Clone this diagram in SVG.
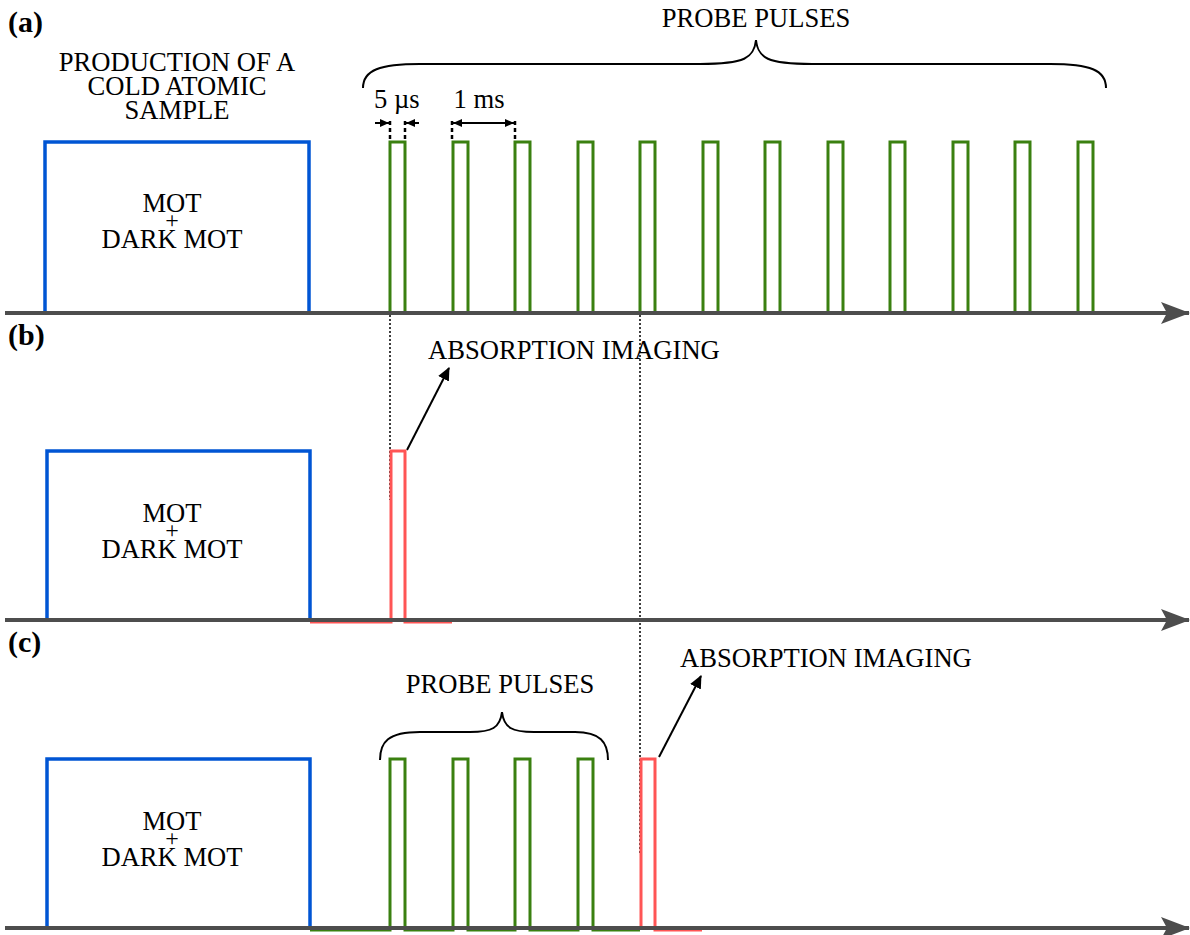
<svg xmlns="http://www.w3.org/2000/svg" width="1190" height="935" viewBox="0 0 1190 935">
<defs>
<marker id="axarr" markerWidth="30" markerHeight="24" refX="28" refY="12" orient="auto" markerUnits="userSpaceOnUse">
<path d="M0,1 L29,12 L0,23 L6,12 Z" fill="#4d4d4d"/>
</marker>
<marker id="arr" markerWidth="14" markerHeight="14" refX="12" refY="7" orient="auto" markerUnits="userSpaceOnUse">
<path d="M0,1 L13,7 L0,13 Z" fill="#000"/>
</marker>
<marker id="sarr" markerWidth="10" markerHeight="10" refX="9" refY="5" orient="auto" markerUnits="userSpaceOnUse">
<path d="M0,1 L9,5 L0,9 Z" fill="#000"/>
</marker>
</defs>
<style>
text{font-family:'Liberation Serif','Times New Roman','DejaVu Serif',serif;fill:#000}
.t{font-size:26.6px}
.p{font-size:24px}
.lbl{font-size:30px;font-weight:bold}
.axis{stroke:#4d4d4d;stroke-width:4;fill:none}
.blue{stroke:#0055d4;stroke-width:3.5;fill:none}
.green{stroke:#3a8010;stroke-width:3;fill:none}
.red{stroke:#ff5555;stroke-width:3;fill:none}
.dot{stroke:#000;stroke-width:1.5;stroke-dasharray:2,2;fill:none}
.dash{stroke:#000;stroke-width:2.5;stroke-dasharray:4,3;fill:none}
.brace{stroke:#000;stroke-width:2;fill:none}
.ln{stroke:#000;stroke-width:2;fill:none}
</style>

<g id="connectors">
<line class="dot" x1="390" y1="315" x2="390" y2="500"/>
<line class="dot" x1="640" y1="315" x2="640" y2="855"/>
<line class="ln" x1="407" y1="450" x2="449" y2="368" marker-end="url(#arr)"/>
<line class="ln" x1="659" y1="757" x2="701" y2="676" marker-end="url(#arr)"/>
</g>

<g id="panel-a">
<text class="lbl" x="8" y="32">(a)</text>
<text class="t" x="177" y="71" text-anchor="middle">PRODUCTION OF A</text>
<text class="t" x="177" y="95" text-anchor="middle">COLD ATOMIC</text>
<text class="t" x="177" y="119" text-anchor="middle">SAMPLE</text>
<text class="t" x="756" y="27" text-anchor="middle">PROBE PULSES</text>
<path class="brace" d="M363,88 C363,70 380,64 420,64 L700,64 C745,64 754,58 756,40 C758,58 767,64 812,64 L1050,64 C1090,64 1106,70 1106,88"/>
<text class="t" x="374" y="108">5 µs</text>
<text class="t" x="479" y="108" text-anchor="middle">1 ms</text>
<line class="dash" x1="390" y1="121" x2="390" y2="142"/>
<line class="dash" x1="405" y1="121" x2="405" y2="142"/>
<line class="dash" x1="452" y1="121" x2="452" y2="142"/>
<line class="dash" x1="515" y1="121" x2="515" y2="142"/>
<line class="ln" x1="375" y1="123" x2="389" y2="123" marker-end="url(#sarr)"/>
<line class="ln" x1="419" y1="123" x2="406" y2="123" marker-end="url(#sarr)"/>
<line class="ln" x1="462" y1="123" x2="453" y2="123" marker-end="url(#sarr)"/>
<line class="ln" x1="462" y1="123" x2="514" y2="123" marker-end="url(#sarr)"/>
<path class="blue" d="M45,313 V142 H309 V313"/>
<text class="t" x="172" y="212" text-anchor="middle">MOT</text>
<text class="p" x="172" y="228" text-anchor="middle">+</text>
<text class="t" x="172" y="248" text-anchor="middle">DARK MOT</text>
<path class="green" d="M390,313 V142 H405 V313 M453,313 V142 H468 V313 M515,313 V142 H530 V313 M578,313 V142 H593 V313 M640,313 V142 H655 V313 M703,313 V142 H718 V313 M765,313 V142 H780 V313 M828,313 V142 H843 V313 M890,313 V142 H905 V313 M953,313 V142 H968 V313 M1015,313 V142 H1030 V313 M1078,313 V142 H1093 V313"/>
<line class="axis" x1="5" y1="313" x2="1189" y2="313" marker-end="url(#axarr)"/>
</g>

<g id="panel-b">
<text class="lbl" x="8" y="345">(b)</text>
<text class="t" x="428" y="359">ABSORPTION IMAGING</text>
<path class="blue" d="M47,620 V451 H310 V620"/>
<text class="t" x="172" y="522" text-anchor="middle">MOT</text>
<text class="p" x="172" y="538" text-anchor="middle">+</text>
<text class="t" x="172" y="558" text-anchor="middle">DARK MOT</text>
<path class="red" d="M310,622 H391 V451 H405 V622 H452"/>
<line class="axis" x1="5" y1="620" x2="1189" y2="620" marker-end="url(#axarr)"/>
</g>

<g id="panel-c">
<text class="lbl" x="8" y="652">(c)</text>
<text class="t" x="500" y="693" text-anchor="middle">PROBE PULSES</text>
<path class="brace" d="M380,760 C380,742 388,732 420,732 L470,732 C492,732 500,728 502,712 C504,728 512,732 534,732 L575,732 C600,732 608,742 608,760"/>
<text class="t" x="680" y="667">ABSORPTION IMAGING</text>
<path class="blue" d="M47,928 V759 H310 V928"/>
<text class="t" x="172" y="830" text-anchor="middle">MOT</text>
<text class="p" x="172" y="846" text-anchor="middle">+</text>
<text class="t" x="172" y="866" text-anchor="middle">DARK MOT</text>
<path class="green" d="M310,930 H390 V759 H405 V930 H453 V759 H468 V930 H515 V759 H530 V930 H578 V759 H593 V930 H640"/>
<path class="red" d="M641,928 V759 H655 V930 H702"/>
<line class="axis" x1="5" y1="928" x2="1189" y2="928" marker-end="url(#axarr)"/>
</g>
</svg>
